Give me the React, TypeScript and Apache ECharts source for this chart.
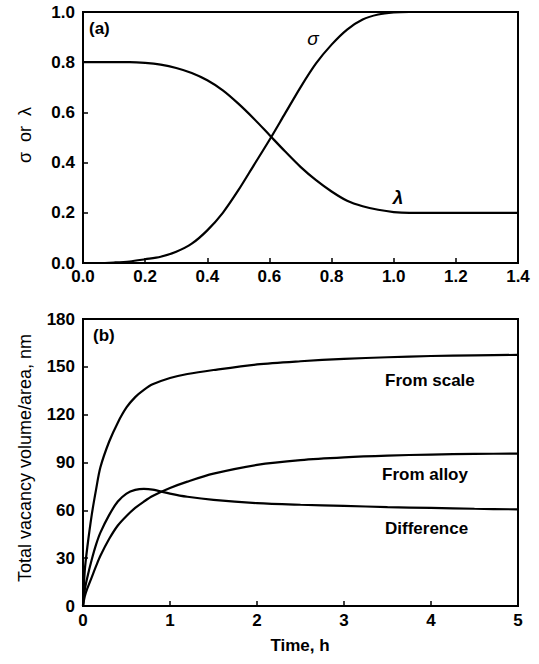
import React, { useEffect, useRef } from "react";
import * as echarts from "echarts";

// Panel (a): fractions vs time
const aTime = [0, 0.05, 0.1, 0.15, 0.2, 0.25, 0.3, 0.35, 0.4, 0.45, 0.5, 0.55, 0.6, 0.65, 0.7, 0.75, 0.8, 0.85, 0.9, 0.95, 1.0, 1.05, 1.1, 1.2, 1.3, 1.4];
const sigmaVals = [0, 0.0, 0.002, 0.006, 0.015, 0.025, 0.045, 0.077, 0.13, 0.2, 0.29, 0.39, 0.49, 0.595, 0.7, 0.795, 0.87, 0.93, 0.97, 0.99, 0.998, 1.0, 1.0, 1.0, 1.0, 1.0];
const lambdaVals = [0.8, 0.8, 0.8, 0.8, 0.797, 0.79, 0.777, 0.757, 0.728, 0.688, 0.635, 0.575, 0.51, 0.445, 0.383, 0.33, 0.285, 0.248, 0.226, 0.212, 0.203, 0.2, 0.2, 0.2, 0.2, 0.2];

// Panel (b): vacancy volume/area vs time
const bTime = [0, 0.02, 0.05, 0.1, 0.15, 0.2, 0.3, 0.4, 0.5, 0.6, 0.7, 0.8, 1.0, 1.2, 1.5, 2.0, 2.5, 3.0, 3.5, 4.0, 4.5, 5.0];
const fromScale = [0, 22, 37, 57, 73, 87, 103, 115, 124.5, 131, 135.5, 139, 143, 145.5, 148, 151.5, 153.5, 155, 156, 156.8, 157.2, 157.5];
const fromAlloy = [0, 6, 11, 18, 25, 31.5, 42, 50.5, 56.5, 61.5, 65.5, 69, 74, 78, 83, 88.5, 91.5, 93.2, 94.3, 95, 95.4, 95.6];
const difference = [0, 10, 18, 29, 38.5, 46, 57, 65.5, 70.5, 72.8, 73.5, 73, 70.5, 68.5, 66.5, 64.5, 63.5, 62.8, 62, 61.5, 61, 60.6];

const FONT = '"Liberation Sans", Arial, sans-serif';

function pairs(xs: number[], ys: number[]) {
  return xs.map((x, i) => [x, ys[i]]);
}

export default function App() {
  const ref = useRef<HTMLDivElement>(null);
  useEffect(() => {
    if (!ref.current) return;
    const chart = echarts.init(ref.current, undefined, { renderer: "svg" });
    const tickLabel = { color: "#000", fontFamily: FONT, fontWeight: "bold" as const, fontSize: 17 };
    const lineStyle = { color: "#000", width: 2.2 };
    const axisLine = { show: true, lineStyle: { color: "#000", width: 2 } };
    const axisTick = { show: true, inside: true, length: 5, lineStyle: { color: "#000", width: 1.5 } };
    const series = (xi: number, yi: number, xs: number[], ys: number[]) => ({
      type: "line",
      xAxisIndex: xi,
      yAxisIndex: yi,
      data: pairs(xs, ys),
      smooth: 0.3,
      symbol: "none",
      lineStyle,
      silent: true,
    });
    chart.setOption({
      animation: false,
      backgroundColor: "#fff",
      grid: [
        { left: 83, top: 12, width: 435, height: 251, show: true, borderColor: "#000", borderWidth: 2, backgroundColor: "transparent" },
        { left: 83, top: 319, width: 435, height: 287, show: true, borderColor: "#000", borderWidth: 2, backgroundColor: "transparent" },
      ],
      xAxis: [
        {
          type: "value", gridIndex: 0, min: 0, max: 1.4, interval: 0.2,
          axisLine, axisTick, splitLine: { show: false },
          axisLabel: { ...tickLabel, margin: 5, formatter: (v: number) => v.toFixed(1) },
        },
        {
          type: "value", gridIndex: 1, min: 0, max: 5, interval: 1,
          axisLine, axisTick, splitLine: { show: false },
          axisLabel: { ...tickLabel, margin: 6 },
        },
      ],
      yAxis: [
        {
          type: "value", gridIndex: 0, min: 0, max: 1, interval: 0.2,
          axisLine, axisTick, splitLine: { show: false },
          axisLabel: { ...tickLabel, margin: 8, formatter: (v: number) => v.toFixed(1) },
        },
        {
          type: "value", gridIndex: 1, min: 0, max: 180, interval: 30,
          axisLine, axisTick, splitLine: { show: false },
          axisLabel: { ...tickLabel, margin: 8 },
        },
      ],
      series: [
        series(0, 0, aTime, sigmaVals),
        series(0, 0, aTime, lambdaVals),
        series(1, 1, bTime, fromScale),
        series(1, 1, bTime, fromAlloy),
        series(1, 1, bTime, difference),
      ],
      graphic: [
        { type: "text", x: 25, y: 135, rotation: Math.PI / 2, style: { text: "σ  or  λ", font: `18px ${FONT}`, fill: "#000", align: "center", verticalAlign: "middle" } },
        { type: "text", x: 25, y: 458, rotation: Math.PI / 2, style: { text: "Total vacancy volume/area, nm", font: `18px ${FONT}`, fill: "#000", align: "center", verticalAlign: "middle" } },
        { type: "text", x: 300, y: 645, style: { text: "Time, h", font: `bold 17px ${FONT}`, fill: "#000", align: "center", verticalAlign: "middle" } },
        { type: "text", x: 89, y: 28, style: { text: "(a)", font: `bold 17px ${FONT}`, fill: "#000", align: "left", verticalAlign: "middle" } },
        { type: "text", x: 93, y: 335, style: { text: "(b)", font: `bold 17px ${FONT}`, fill: "#000", align: "left", verticalAlign: "middle" } },
        { type: "text", x: 313, y: 38, style: { text: "σ", font: `italic 19px ${FONT}`, fill: "#000", align: "center", verticalAlign: "middle" } },
        { type: "text", x: 398, y: 197, style: { text: "λ", font: `italic bold 19px ${FONT}`, fill: "#000", align: "center", verticalAlign: "middle" } },
        { type: "text", x: 385, y: 380, style: { text: "From scale", font: `bold 17px ${FONT}`, fill: "#000", align: "left", verticalAlign: "middle" } },
        { type: "text", x: 382, y: 474, style: { text: "From alloy", font: `bold 17px ${FONT}`, fill: "#000", align: "left", verticalAlign: "middle" } },
        { type: "text", x: 385, y: 528, style: { text: "Difference", font: `bold 17px ${FONT}`, fill: "#000", align: "left", verticalAlign: "middle" } },
      ],
    });
    return () => chart.dispose();
  }, []);
  return <div ref={ref} style={{ position: "fixed", left: 0, top: 0, width: 539, height: 664 }} />;
}
